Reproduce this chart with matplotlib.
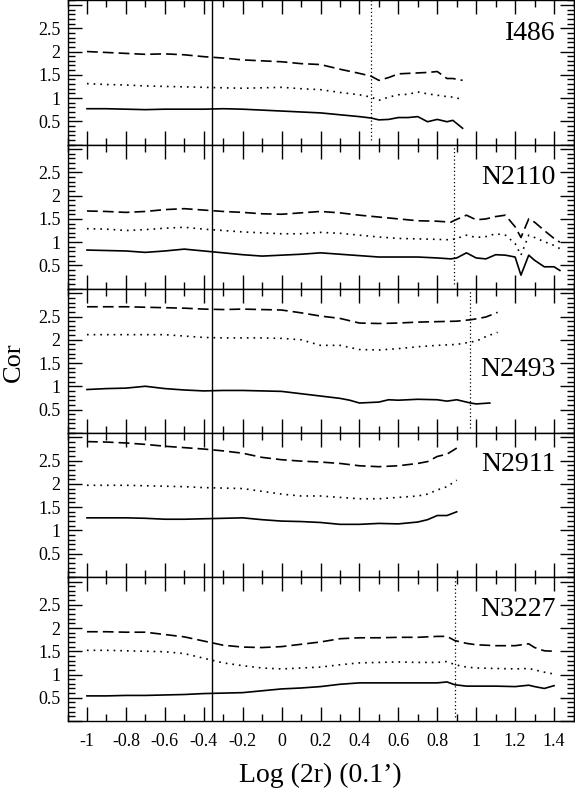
#!/usr/bin/env python3
import numpy as np
import matplotlib
matplotlib.use("Agg")
import matplotlib.pyplot as plt
from matplotlib.ticker import MultipleLocator, FuncFormatter

plt.rcParams['font.family'] = ['Liberation Serif', 'DejaVu Serif']
plt.rcParams['axes.unicode_minus'] = False

# galaxy names, top to bottom
names = ['I486', 'N2110', 'N2493', 'N2911', 'N3227']
label_y = [2.39, 2.40, 1.36, 2.42, 2.40]

# common vertical marker and per-galaxy dotted marker
x_solid_mark = -0.357
x_dot_mark = [0.46, 0.887, 0.968, None, 0.889]

# I486
x_i486 = [-1.0, -0.9, -0.8, -0.7, -0.6, -0.5, -0.4, -0.3, -0.2, -0.1, 0.0, 0.1, 0.2,
          0.3, 0.4, 0.46, 0.5, 0.55, 0.6, 0.65, 0.7, 0.75, 0.8, 0.85, 0.88, 0.93]
i486_solid = [0.77, 0.77, 0.76, 0.75, 0.76, 0.76, 0.76, 0.77, 0.76, 0.74, 0.72, 0.70, 0.68,
              0.64, 0.60, 0.57, 0.53, 0.54, 0.58, 0.58, 0.60, 0.49, 0.54, 0.49, 0.52, 0.35]
i486_dot = [1.31, 1.29, 1.28, 1.26, 1.25, 1.24, 1.23, 1.22, 1.21, 1.22, 1.23, 1.20, 1.18,
            1.12, 1.07, 1.02, 0.95, 1.02, 1.07, 1.08, 1.13, 1.09, 1.06, 1.03, 1.02, 0.97]
i486_dash = [2.00, 1.98, 1.96, 1.94, 1.95, 1.93, 1.89, 1.86, 1.82, 1.80, 1.78, 1.74, 1.72,
             1.62, 1.53, 1.47, 1.38, 1.44, 1.52, 1.53, 1.54, 1.55, 1.57, 1.42, 1.42, 1.38]

# N2110
x_n2110 = [-1.0, -0.9, -0.8, -0.7, -0.6, -0.5, -0.4, -0.3, -0.2, -0.1, 0.0, 0.1, 0.2,
           0.3, 0.4, 0.5, 0.6, 0.7, 0.8, 0.87, 0.9, 0.95, 1.0, 1.05, 1.1, 1.15, 1.2,
           1.23, 1.27, 1.3, 1.35, 1.4, 1.43]
n2110_solid = [0.83, 0.82, 0.81, 0.78, 0.81, 0.85, 0.81, 0.77, 0.73, 0.70, 0.72, 0.74, 0.77,
               0.74, 0.71, 0.68, 0.68, 0.68, 0.66, 0.64, 0.66, 0.77, 0.66, 0.64, 0.73, 0.72,
               0.68, 0.29, 0.72, 0.61, 0.47, 0.47, 0.39]
n2110_dot = [1.29, 1.28, 1.25, 1.27, 1.30, 1.32, 1.28, 1.25, 1.22, 1.20, 1.18, 1.18, 1.21,
             1.19, 1.15, 1.11, 1.08, 1.07, 1.06, 1.05, 1.08, 1.15, 1.10, 1.12, 1.18, 1.15,
             0.97, 0.72, 1.15, 1.10, 1.01, 0.93, 0.86]
n2110_dash = [1.67, 1.66, 1.64, 1.66, 1.70, 1.72, 1.69, 1.66, 1.64, 1.61, 1.60, 1.63, 1.66,
              1.63, 1.58, 1.54, 1.50, 1.46, 1.45, 1.43, 1.49, 1.58, 1.48, 1.50, 1.55, 1.58,
              1.33, 1.10, 1.50, 1.43, 1.25, 1.08, 1.00]

# N2493
x_n2493 = [-1.0, -0.9, -0.8, -0.7, -0.6, -0.5, -0.4, -0.3, -0.2, -0.1, 0.0, 0.1, 0.2,
           0.3, 0.4, 0.5, 0.6, 0.7, 0.8, 0.9, 0.97, 1.0, 1.05, 1.11]
x_n2493_solid = [-1.0, -0.9, -0.8, -0.7, -0.6, -0.5, -0.4, -0.3, -0.2, -0.1, 0.0, 0.1, 0.2,
                 0.3, 0.35, 0.4, 0.45, 0.5, 0.55, 0.6, 0.7, 0.8, 0.85, 0.9, 0.97, 1.0, 1.07]
n2493_solid = [0.93, 0.95, 0.96, 1.00, 0.95, 0.92, 0.90, 0.91, 0.91, 0.90, 0.89, 0.84, 0.79,
               0.74, 0.70, 0.64, 0.65, 0.66, 0.71, 0.70, 0.72, 0.71, 0.68, 0.71, 0.64, 0.62, 0.64]
n2493_dot = [2.11, 2.11, 2.11, 2.11, 2.11, 2.08, 2.05, 2.04, 2.04, 2.04, 2.03, 2.00, 1.88,
             1.88, 1.79, 1.78, 1.81, 1.85, 1.88, 1.90, 1.95, 1.97, 2.07, 2.16]
n2493_dash = [2.71, 2.71, 2.71, 2.70, 2.69, 2.68, 2.66, 2.65, 2.66, 2.65, 2.64, 2.58, 2.51,
              2.46, 2.36, 2.35, 2.36, 2.38, 2.39, 2.40, 2.43, 2.45, 2.49, 2.59]

# N2911
x_n2911 = [-1.0, -0.9, -0.8, -0.7, -0.6, -0.5, -0.4, -0.3, -0.2, -0.1, 0.0, 0.1, 0.2,
           0.3, 0.4, 0.5, 0.6, 0.7, 0.75, 0.8, 0.85, 0.9]
n2911_solid = [1.27, 1.27, 1.27, 1.26, 1.24, 1.24, 1.25, 1.26, 1.27, 1.23, 1.20, 1.19, 1.17,
               1.13, 1.13, 1.15, 1.14, 1.18, 1.23, 1.32, 1.32, 1.40]
n2911_dot = [1.97, 1.97, 1.97, 1.96, 1.95, 1.94, 1.92, 1.91, 1.90, 1.84, 1.78, 1.74, 1.74,
             1.71, 1.68, 1.68, 1.71, 1.74, 1.78, 1.87, 1.94, 2.08]
n2911_dash = [2.91, 2.90, 2.88, 2.85, 2.81, 2.78, 2.75, 2.71, 2.66, 2.57, 2.52, 2.49, 2.47,
              2.44, 2.39, 2.37, 2.39, 2.44, 2.48, 2.59, 2.64, 2.77]

# N3227
x_n3227 = [-1.0, -0.9, -0.8, -0.7, -0.6, -0.5, -0.4, -0.3, -0.2, -0.1, 0.0, 0.1, 0.2,
           0.3, 0.4, 0.5, 0.6, 0.7, 0.8, 0.85, 0.89, 0.95, 1.0, 1.1, 1.2, 1.27, 1.3, 1.35, 1.4]
n3227_solid = [0.54, 0.54, 0.55, 0.55, 0.56, 0.57, 0.59, 0.60, 0.61, 0.65, 0.69, 0.71, 0.74,
               0.79, 0.82, 0.82, 0.82, 0.82, 0.82, 0.84, 0.78, 0.75, 0.75, 0.75, 0.74, 0.77,
               0.74, 0.70, 0.76]
n3227_dot = [1.52, 1.52, 1.51, 1.50, 1.49, 1.45, 1.35, 1.25, 1.19, 1.14, 1.12, 1.14, 1.16,
             1.21, 1.25, 1.26, 1.27, 1.26, 1.26, 1.28, 1.21, 1.16, 1.14, 1.13, 1.12, 1.13,
             1.10, 1.05, 1.01]
n3227_dash = [1.92, 1.92, 1.91, 1.91, 1.86, 1.81, 1.72, 1.63, 1.59, 1.58, 1.60, 1.65, 1.70,
              1.77, 1.79, 1.79, 1.80, 1.80, 1.82, 1.82, 1.73, 1.67, 1.64, 1.62, 1.62, 1.66,
              1.58, 1.51, 1.50]

panels = [
    [(x_i486, i486_solid), (x_i486, i486_dot), (x_i486, i486_dash)],
    [(x_n2110, n2110_solid), (x_n2110, n2110_dot), (x_n2110, n2110_dash)],
    [(x_n2493_solid, n2493_solid), (x_n2493, n2493_dot), (x_n2493, n2493_dash)],
    [(x_n2911, n2911_solid), (x_n2911, n2911_dot), (x_n2911, n2911_dash)],
    [(x_n3227, n3227_solid), (x_n3227, n3227_dot), (x_n3227, n3227_dash)],
]
styles = ['-', (0, (1, 3)), (0, (6.5, 3))]

fig, axes = plt.subplots(5, 1, sharex=True, figsize=(5.75, 7.91), dpi=100)
fig.subplots_adjust(left=67.5/575, right=573.5/575, top=0.9995, bottom=1-721/791, hspace=0)

def yfmt(v, pos):
    v = round(v, 2)
    if v <= 0 or v >= 3:
        return ''
    return f'{v:g}'

def xfmt(v, pos):
    return f'{round(v, 1) + 0.0:g}'

for i, ax in enumerate(axes):
    for (xs, ys), ls in zip(panels[i], styles):
        ax.plot(xs, ys, color='black', lw=1.2, linestyle=ls)
    ax.axvline(x_solid_mark, color='black', lw=1.0)
    if x_dot_mark[i] is not None:
        ax.axvline(x_dot_mark[i], ymin=0.03, color='black', lw=0.9, linestyle=(0, (1, 2)))
    ax.text(1.41, label_y[i], names[i], ha='right', va='center', fontsize=20)

    ax.set_xlim(-1.1, 1.5)
    ax.set_ylim(0, 3.1)
    ax.xaxis.set_major_locator(MultipleLocator(0.2))
    ax.xaxis.set_minor_locator(MultipleLocator(0.1))
    ax.yaxis.set_major_locator(MultipleLocator(0.5))
    ax.yaxis.set_minor_locator(MultipleLocator(0.1))
    ax.yaxis.set_major_formatter(FuncFormatter(yfmt))
    ax.xaxis.set_major_formatter(FuncFormatter(xfmt))
    ax.tick_params(which='both', direction='in', top=True, right=True, width=1.0)
    ax.tick_params(which='major', length=10, labelsize=13)
    ax.tick_params(which='minor', length=5)
    ax.tick_params(axis='y', pad=5)
    ax.tick_params(axis='x', pad=9)
    for sp in ax.spines.values():
        sp.set_linewidth(1.0)

fig.text(14/575, 1 - 362/791, 'Cor', rotation=90, ha='center', va='center', fontsize=19)
fig.text(320/575, 1 - 775/791, "Log (2r) (0.1\u2019)", ha='center', va='center', fontsize=20)

fig.savefig('out.png', dpi=100)
